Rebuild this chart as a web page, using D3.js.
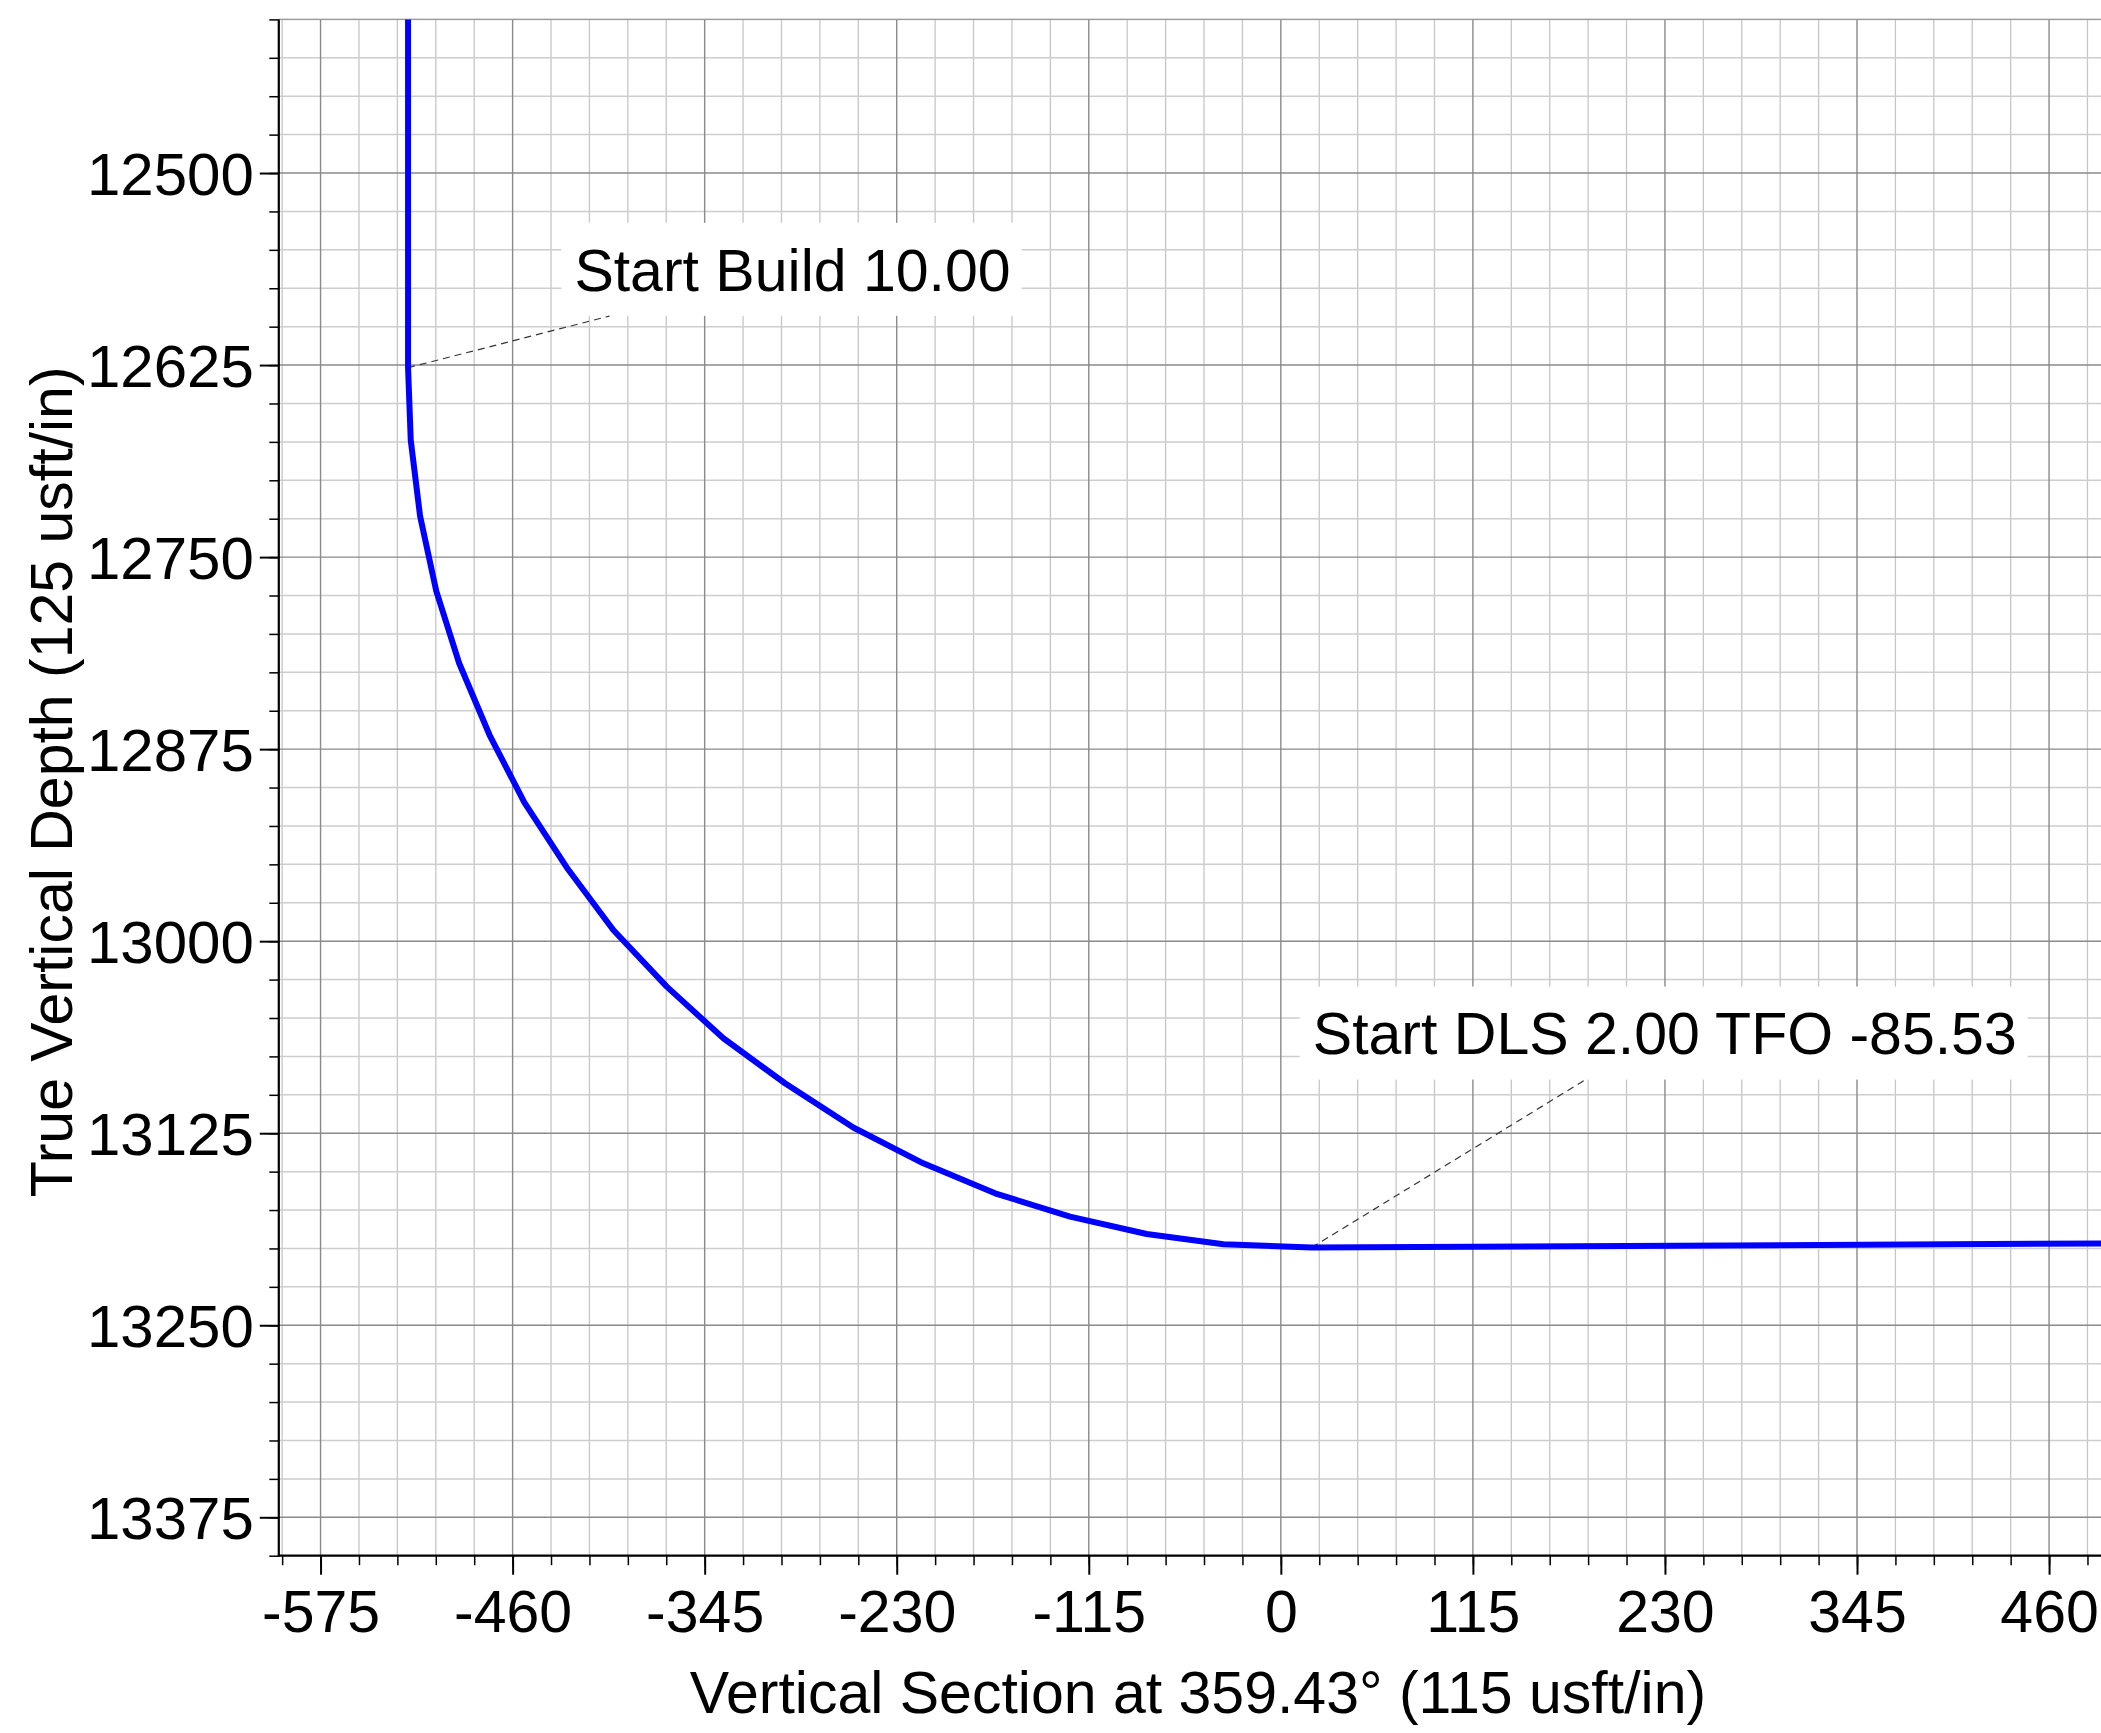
<!DOCTYPE html>
<html>
<head>
<meta charset="utf-8">
<script src="https://cdn.jsdelivr.net/npm/d3@7"></script>
<style>
  html, body { margin: 0; padding: 0; background: #fff; }
  svg { display: block; }
  text { font-family: "Liberation Sans", Arial, Helvetica, sans-serif; }
</style>
</head>
<body>
<svg id="chart" width="2101" height="1733"></svg>
<script>
// ---- Data ----
const vsValues  = [-522.6, -522.6, -521.0, -515.4, -505.7, -492.0, -473.8, -453.0, -427.6, -399.7,
                   -367.7, -333.8, -296.9, -256.0, -214.1, -171.1, -126.2, -80.3, -34.4, 18.5, 491.1];
const tvdValues = [12400, 12626.7, 12673.8, 12723.3, 12772.1, 12819.1, 12865.8, 12909.7, 12952.0, 12992.7,
                   13029.6, 13063.2, 13092.5, 13121.3, 13144.6, 13164.1, 13179.3, 13190.6, 13197.3, 13199.4, 13196.8];

const xMajorTicks = [-575, -460, -345, -230, -115, 0, 115, 230, 345, 460];
const yMajorTicks = [12500, 12625, 12750, 12875, 13000, 13125, 13250, 13375];
const xMinorStep = 23;
const yMinorStep = 25;

const annLabels   = ["Start Build 10.00", "Start DLS 2.00 TFO -85.53"];
const annPointVS  = [-522.6, 18.5];
const annPointTVD = [12626.7, 13199.4];
const annBoxVS    = [-293.6, 228.7];
const annBoxTVD   = [12562.7, 13059.8];
const annLeadVS   = [-402.0, 183.7];
const annLeadTVD  = [12593.1, 13089.3];

const xTitle = "Vertical Section at 359.43° (115 usft/in)";
const yTitle = "True Vertical Depth (125 usft/in)";

(function () {
// ---- Layout ----
const svg = d3.select("#chart");
const pL = 278.8, pR = 2101, pT = 19.4, pB = 1555.7;
const FS = 59;

const x = d3.scaleLinear().domain([-600, 491.1]).range([pL, pR]);
const y = d3.scaleLinear().domain([12400, 13400]).range([pT, pB]);

const xMinor = d3.range(-598, 491.1, xMinorStep);
const yMinor = d3.range(12400, 13400.1, yMinorStep);

svg.append("defs").append("clipPath").attr("id", "plotclip")
  .append("rect").attr("x", pL).attr("y", pT - 1).attr("width", pR - pL).attr("height", pB - pT + 1);

// grid
const grid = svg.append("g");
grid.selectAll(".vmin").data(xMinor.filter(v => !xMajorTicks.includes(v))).join("line")
  .attr("x1", d => x(d)).attr("x2", d => x(d)).attr("y1", pT).attr("y2", pB)
  .attr("stroke", "#c6c6c6").attr("stroke-width", 1.3);
grid.selectAll(".hmin").data(yMinor.filter(v => !yMajorTicks.includes(v))).join("line")
  .attr("y1", d => y(d)).attr("y2", d => y(d)).attr("x1", pL).attr("x2", pR)
  .attr("stroke", "#cdcdcd").attr("stroke-width", 1.5);
grid.selectAll(".vmaj").data(xMajorTicks).join("line")
  .attr("x1", d => x(d)).attr("x2", d => x(d)).attr("y1", pT).attr("y2", pB)
  .attr("stroke", "#8a8a8a").attr("stroke-width", 1.4);
grid.selectAll(".hmaj").data(yMajorTicks).join("line")
  .attr("y1", d => y(d)).attr("y2", d => y(d)).attr("x1", pL).attr("x2", pR)
  .attr("stroke", "#8a8a8a").attr("stroke-width", 1.4);
grid.append("line").attr("x1", pL).attr("x2", pR).attr("y1", y(12400)).attr("y2", y(12400))
  .attr("stroke", "#9a9a9a").attr("stroke-width", 1.4);

// annotation boxes + leaders
const ann = svg.append("g");
annLabels.forEach((lab, i) => {
  const cx = x(annBoxVS[i]), cy = y(annBoxTVD[i]);
  const g = ann.append("g");
  const rect = g.append("rect").attr("fill", "#fff");
  const t = g.append("text")
    .attr("x", cx + 2).attr("y", cy).attr("dy", "0.36em")
    .attr("text-anchor", "middle").attr("font-size", FS).attr("fill", "#000")
    .text(lab);
  const bb = t.node().getBBox();
  rect.attr("x", bb.x - 13).attr("y", cy - 46.5).attr("width", bb.width + 24).attr("height", 93);
  ann.append("line")
    .attr("x1", x(annPointVS[i])).attr("y1", y(annPointTVD[i]))
    .attr("x2", x(annLeadVS[i])).attr("y2", y(annLeadTVD[i]))
    .attr("stroke", "#333").attr("stroke-width", 1.2).attr("stroke-dasharray", "7,5");
});

// well path
const line = d3.line().x((d, i) => x(vsValues[i])).y((d, i) => y(tvdValues[i]));
svg.append("path")
  .attr("clip-path", "url(#plotclip)")
  .attr("d", line(vsValues))
  .attr("fill", "none").attr("stroke", "#0000ff").attr("stroke-width", 6)
  .attr("stroke-linejoin", "round");

// axes
const fmt = d => String(d);
const xAxisMinor = svg.append("g").attr("transform", `translate(0,${pB})`)
  .call(d3.axisBottom(x).tickValues(xMinor).tickSize(9.5).tickFormat(""));
const xAxis = svg.append("g").attr("transform", `translate(0,${pB})`)
  .call(d3.axisBottom(x).tickValues(xMajorTicks).tickSize(19).tickPadding(15).tickFormat(fmt));
const yAxisMinor = svg.append("g").attr("transform", `translate(${pL},0)`)
  .call(d3.axisLeft(y).tickValues(yMinor).tickSize(9.5).tickFormat(""));
const yAxis = svg.append("g").attr("transform", `translate(${pL},0)`)
  .call(d3.axisLeft(y).tickValues(yMajorTicks).tickSize(19).tickPadding(6).tickFormat(fmt));

[xAxisMinor, xAxis, yAxisMinor, yAxis].forEach(g => {
  g.select(".domain").remove();
  g.attr("font-size", FS).attr("font-family", "'Liberation Sans', Arial, sans-serif");
  g.selectAll("text").attr("fill", "#000");
});
yAxis.attr("font-size", 60);
xAxisMinor.selectAll("line").attr("stroke", "#000").attr("stroke-width", 1.5);
yAxisMinor.selectAll("line").attr("stroke", "#000").attr("stroke-width", 1.5);
xAxis.selectAll("line").attr("stroke", "#000").attr("stroke-width", 2);
yAxis.selectAll("line").attr("stroke", "#000").attr("stroke-width", 2);
yAxis.selectAll("text").attr("dy", "0.36em");

// axis lines
svg.append("line").attr("x1", pL).attr("x2", pL).attr("y1", pT).attr("y2", pB + 1)
  .attr("stroke", "#000").attr("stroke-width", 2.2);
svg.append("line").attr("x1", pL - 1).attr("x2", pR).attr("y1", pB).attr("y2", pB)
  .attr("stroke", "#000").attr("stroke-width", 2.2);

// titles
svg.append("text").attr("x", 1198).attr("y", 1713).attr("text-anchor", "middle")
  .attr("font-size", FS).attr("fill", "#000").text(xTitle);
svg.append("text").attr("transform", "translate(71.5,781.8) rotate(-90)").attr("text-anchor", "middle")
  .attr("font-size", FS).attr("fill", "#000").text(yTitle);
})();
</script>
</body>
</html>
